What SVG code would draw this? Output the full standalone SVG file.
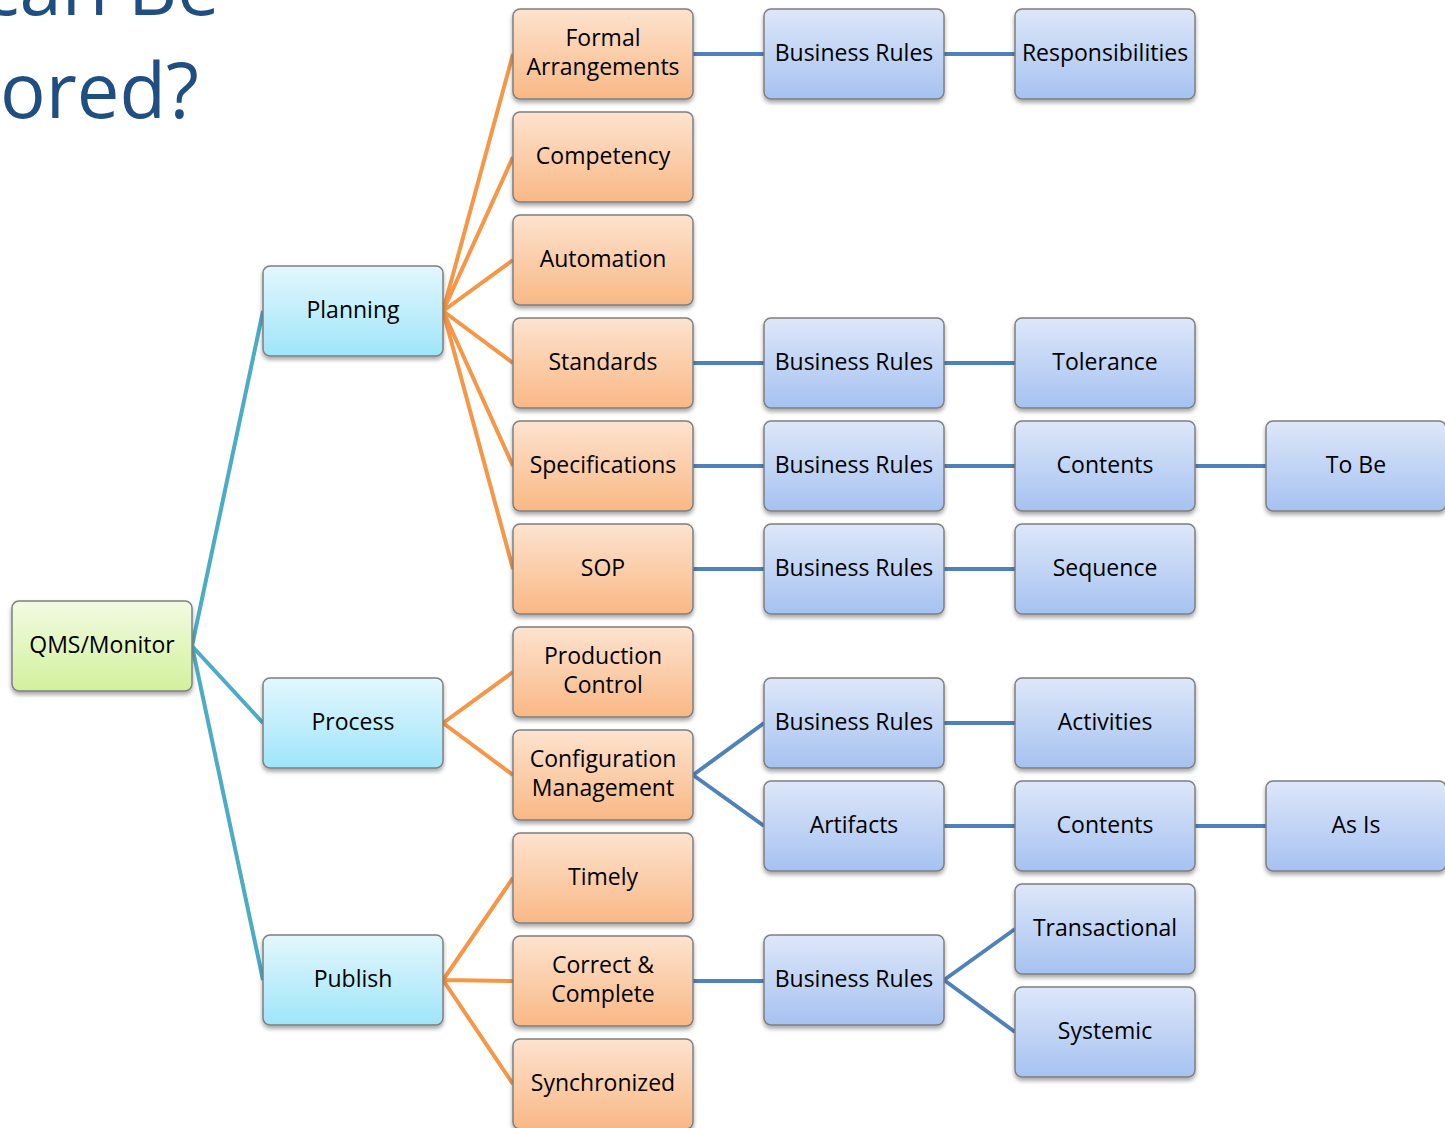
<svg xmlns="http://www.w3.org/2000/svg" width="1445" height="1128" viewBox="0 0 1445 1128">
<defs>
<linearGradient id="gOr" x1="0" y1="0" x2="0" y2="1"><stop offset="0" stop-color="#FDE3CF"/><stop offset="1" stop-color="#F9B885"/></linearGradient>
<linearGradient id="gBl" x1="0" y1="0" x2="0" y2="1"><stop offset="0" stop-color="#DDE7F9"/><stop offset="1" stop-color="#A6C2F1"/></linearGradient>
<linearGradient id="gGr" x1="0" y1="0" x2="0" y2="1"><stop offset="0" stop-color="#F3FBE3"/><stop offset="1" stop-color="#D2F19C"/></linearGradient>
<linearGradient id="gCy" x1="0" y1="0" x2="0" y2="1"><stop offset="0" stop-color="#E3F7FD"/><stop offset="1" stop-color="#9FE5FA"/></linearGradient>
<filter id="sh" x="-10%" y="-10%" width="125%" height="135%"><feDropShadow dx="0" dy="3" stdDeviation="2" flood-color="#000" flood-opacity="0.35"/></filter>
</defs>
<style>
.n rect{stroke:#7F7F7F;stroke-width:1.5;filter:url(#sh)}
.or rect{fill:url(#gOr)}
.bl rect{fill:url(#gBl)}
.gr rect{fill:url(#gGr)}
.cy rect{fill:url(#gCy)}
.n text{font-family:"Open Sans","Liberation Sans",sans-serif;font-size:23px;fill:#000;text-anchor:middle;dominant-baseline:central}
.title{font-family:"Open Sans","Liberation Sans",sans-serif;font-size:76px;fill:#1F4E82}
.ct{stroke:#4BACC6;stroke-width:4;fill:none}
.co{stroke:#F79646;stroke-width:4;fill:none}
.cb{stroke:#4F81BD;stroke-width:4;fill:none}
</style>
<rect width="1445" height="1128" fill="#fff"/>
<text class="title" x="-17" y="15">can Be</text>
<text class="title" x="0" y="118">ored?</text>
<g id="connectors">
<path class="ct" d="M192 646L263 311M192 646L263 723M192 646L263 980"/>
<path class="co" d="M443 311L513 54M443 311L513 157M443 311L513 260M443 311L513 363M443 311L513 466M443 311L513 569"/>
<path class="co" d="M443 723L513 672M443 723L513 775"/>
<path class="co" d="M443 980L513 878M443 980L513 981M443 980L513 1084"/>
<path class="cb" d="M693 54H764M944 54H1015"/>
<path class="cb" d="M693 363H764M944 363H1015"/>
<path class="cb" d="M693 466H764M944 466H1015M1195 466H1266"/>
<path class="cb" d="M693 569H764M944 569H1015"/>
<path class="cb" d="M693 775L764 723M693 775L764 826M944 723H1015M944 826H1015M1195 826H1266"/>
<path class="cb" d="M693 981H764M944 980L1015 929M944 980L1015 1032"/>
</g>
<g id="qms" class="n gr"><rect x="12" y="601" width="180" height="90" rx="7"/><text x="102" y="644">QMS/Monitor</text></g>
<g id="planning" class="n cy"><rect x="263" y="266" width="180" height="90" rx="7"/><text x="353" y="309">Planning</text></g>
<g id="process" class="n cy"><rect x="263" y="678" width="180" height="90" rx="7"/><text x="353" y="721">Process</text></g>
<g id="publish" class="n cy"><rect x="263" y="935" width="180" height="90" rx="7"/><text x="353" y="978">Publish</text></g>
<g id="formal" class="n or"><rect x="513" y="9" width="180" height="90" rx="7"/><text x="603" y="37">Formal</text><text x="603" y="66">Arrangements</text></g>
<g id="competency" class="n or"><rect x="513" y="112" width="180" height="90" rx="7"/><text x="603" y="155">Competency</text></g>
<g id="automation" class="n or"><rect x="513" y="215" width="180" height="90" rx="7"/><text x="603" y="258">Automation</text></g>
<g id="standards" class="n or"><rect x="513" y="318" width="180" height="90" rx="7"/><text x="603" y="361">Standards</text></g>
<g id="specifications" class="n or"><rect x="513" y="421" width="180" height="90" rx="7"/><text x="603" y="464">Specifications</text></g>
<g id="sop" class="n or"><rect x="513" y="524" width="180" height="90" rx="7"/><text x="603" y="567">SOP</text></g>
<g id="prodcontrol" class="n or"><rect x="513" y="627" width="180" height="90" rx="7"/><text x="603" y="655">Production</text><text x="603" y="684">Control</text></g>
<g id="configmgmt" class="n or"><rect x="513" y="730" width="180" height="90" rx="7"/><text x="603" y="758">Configuration</text><text x="603" y="787">Management</text></g>
<g id="timely" class="n or"><rect x="513" y="833" width="180" height="90" rx="7"/><text x="603" y="876">Timely</text></g>
<g id="correct" class="n or"><rect x="513" y="936" width="180" height="90" rx="7"/><text x="603" y="964">Correct &amp;</text><text x="603" y="993">Complete</text></g>
<g id="synchronized" class="n or"><rect x="513" y="1039" width="180" height="90" rx="7"/><text x="603" y="1082">Synchronized</text></g>
<g id="br1" class="n bl"><rect x="764" y="9" width="180" height="90" rx="7"/><text x="854" y="52">Business Rules</text></g>
<g id="br2" class="n bl"><rect x="764" y="318" width="180" height="90" rx="7"/><text x="854" y="361">Business Rules</text></g>
<g id="br3" class="n bl"><rect x="764" y="421" width="180" height="90" rx="7"/><text x="854" y="464">Business Rules</text></g>
<g id="br4" class="n bl"><rect x="764" y="524" width="180" height="90" rx="7"/><text x="854" y="567">Business Rules</text></g>
<g id="br5" class="n bl"><rect x="764" y="678" width="180" height="90" rx="7"/><text x="854" y="721">Business Rules</text></g>
<g id="artifacts" class="n bl"><rect x="764" y="781" width="180" height="90" rx="7"/><text x="854" y="824">Artifacts</text></g>
<g id="br6" class="n bl"><rect x="764" y="935" width="180" height="90" rx="7"/><text x="854" y="978">Business Rules</text></g>
<g id="responsibilities" class="n bl"><rect x="1015" y="9" width="180" height="90" rx="7"/><text x="1105" y="52">Responsibilities</text></g>
<g id="tolerance" class="n bl"><rect x="1015" y="318" width="180" height="90" rx="7"/><text x="1105" y="361">Tolerance</text></g>
<g id="contents1" class="n bl"><rect x="1015" y="421" width="180" height="90" rx="7"/><text x="1105" y="464">Contents</text></g>
<g id="sequence" class="n bl"><rect x="1015" y="524" width="180" height="90" rx="7"/><text x="1105" y="567">Sequence</text></g>
<g id="activities" class="n bl"><rect x="1015" y="678" width="180" height="90" rx="7"/><text x="1105" y="721">Activities</text></g>
<g id="contents2" class="n bl"><rect x="1015" y="781" width="180" height="90" rx="7"/><text x="1105" y="824">Contents</text></g>
<g id="transactional" class="n bl"><rect x="1015" y="884" width="180" height="90" rx="7"/><text x="1105" y="927">Transactional</text></g>
<g id="systemic" class="n bl"><rect x="1015" y="987" width="180" height="90" rx="7"/><text x="1105" y="1030">Systemic</text></g>
<g id="tobe" class="n bl"><rect x="1266" y="421" width="180" height="90" rx="7"/><text x="1356" y="464">To Be</text></g>
<g id="asis" class="n bl"><rect x="1266" y="781" width="180" height="90" rx="7"/><text x="1356" y="824">As Is</text></g>
</svg>
